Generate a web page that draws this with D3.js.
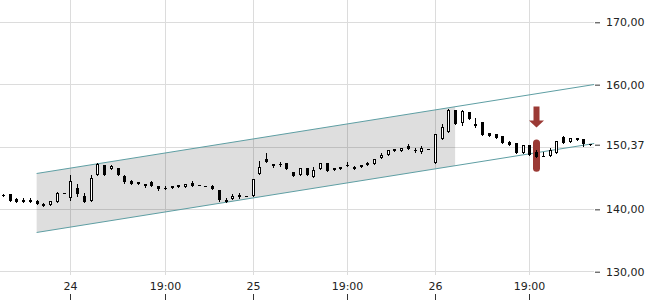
<!DOCTYPE html>
<html><head><meta charset="utf-8">
<script src="https://cdn.jsdelivr.net/npm/d3@7"></script>
<style>
body{margin:0;background:#fff}
svg{display:block}
text{font-family:"DejaVu Sans",sans-serif;font-size:11px;fill:#222}
</style>
</head><body><svg id="c" width="650" height="300"></svg>
<script>
const opens=[142.18,142.35,141.58,141.47,141.47,141.31,140.78,140.62,141.15,142.53,
141.68,143.34,141.99,141.2,145.48,146.97,146.44,146.55,145.32,144.51,
144.3,143.98,144.35,143.6,143.27,143.34,143.44,143.5,144.19,143.84,
143.73,143.63,143.07,141.47,141.58,142.27,142.12,141.99,145.59,148.04,
147.24,147.2,147.35,145.91,145.36,146.55,145.11,146.44,147.29,146.23,
146.39,147.04,146.71,146.97,147.29,147.13,148.15,148.57,149.21,149.32,
150.12,149.45,149.16,149.58,147.35,151.25,152.37,155.78,153.76,155.57,
153.65,153.86,152.16,152.0,151.67,150.65,150.55,149.0,150.28,149.1,
148.42,148.52,148.95,151.45,150.65,151.35,151.2,150.4];
const highs=[142.35,142.45,141.74,141.74,141.74,141.4,140.94,141.31,142.75,142.6,
145.47,143.98,142.54,145.42,147.35,147.1,147.03,146.6,145.4,144.55,
144.3,143.98,144.4,143.6,143.6,143.71,143.87,144.03,144.4,143.85,
143.74,143.82,143.1,141.79,142.38,142.54,142.13,144.79,147.72,149.0,
147.24,147.5,147.4,145.95,146.55,146.55,146.65,147.35,147.29,146.6,
146.76,147.45,146.92,146.97,147.5,147.93,148.95,149.43,149.6,149.69,
150.44,149.76,150.1,149.62,152.0,153.65,156.06,155.8,155.9,155.6,
154.56,153.9,152.2,152.0,151.7,150.92,150.6,150.28,150.3,149.38,
149.15,149.78,150.81,151.73,151.29,151.4,151.25,150.45];
const lows=[142.05,141.2,141.15,141.15,141.04,140.75,140.46,140.62,141.1,142.5,
141.46,141.99,141.15,141.2,145.48,145.4,146.44,145.48,144.2,143.95,
144.0,143.55,143.6,143.1,143.22,143.34,143.44,143.5,143.71,143.78,
143.68,143.2,141.3,141.1,141.58,141.68,142.07,141.99,145.59,147.45,
146.65,146.81,146.44,145.2,145.36,145.36,145.11,146.44,146.0,146.23,
146.39,146.92,146.39,146.76,146.97,147.13,148.15,148.57,149.21,149.32,
149.64,149.12,149.0,149.56,147.35,151.25,152.37,153.6,153.5,154.45,
153.07,151.78,151.67,151.29,150.6,150.28,148.95,149.0,148.68,148.36,
148.42,148.52,148.95,150.55,150.65,150.97,150.12,150.3];
const closes=[142.12,141.23,141.15,141.15,141.04,140.78,140.46,141.31,142.48,142.57,
144.51,142.32,141.15,144.95,147.13,145.48,146.81,145.48,144.24,143.98,
144.03,143.71,143.66,143.18,143.24,143.71,143.87,144.03,143.71,143.8,
143.69,143.23,141.36,141.1,141.99,141.9,142.08,144.79,146.65,147.45,
146.92,147.17,146.44,145.2,146.55,145.36,146.28,147.35,146.0,146.6,
146.76,147.0,146.39,146.76,146.97,147.93,148.63,149.43,149.6,149.69,
149.64,149.41,149.69,149.6,152.0,153.12,155.85,153.6,155.73,154.45,
153.22,151.78,151.67,151.29,150.6,150.28,148.95,150.28,148.68,148.36,
148.5,149.37,150.81,150.55,151.29,150.97,150.44,150.37];

const xTickIndex=[10,24,37,51,64,78];
const xTickLabels=["24","19:00","25","19:00","26","19:00"];
const yGridValues=[130,140,150,160,170];
const yTickValues=[130,140,160,170];
const lastPrice=150.37;
const channelIndex=[5,87.6];
const channelUpper=[145.75,160.02];
const channelLower=[136.29,150.56];
const shadeEndIndex=67;
const markerIndex=79;
const markerRange=[146.05,151.2];

const svg=d3.select("#c");
const n=opens.length;
const x=d3.scaleLinear().domain([-0.5,n-0.5]).range([-0.5,593.5]);
const xr=d3.scaleLinear().domain([-0.5,n-0.5]).rangeRound([-0.5,593.5]);
const y=d3.scaleLinear().domain([130,170]).range([271.7,22.3]);
const yp=v=>Math.floor(y(v));

const locale=d3.formatLocale({decimal:",",thousands:".",grouping:[3],currency:["","€"]});
const fmt=locale.format(".2f");

// grid
const grid=svg.append("g").attr("stroke","#dcdcdc").attr("stroke-width",1).attr("shape-rendering","crispEdges");
grid.selectAll("line.h").data(yGridValues).join("line").attr("class","h")
  .attr("x1",0).attr("x2",594).attr("y1",d=>yp(d)+0.5).attr("y2",d=>yp(d)+0.5);
grid.selectAll("line.v").data(xTickIndex).join("line").attr("class","v")
  .attr("x1",d=>xr(d)+0.5).attr("x2",d=>xr(d)+0.5).attr("y1",0).attr("y2",275);

// channel
const up=d3.scaleLinear().domain(channelIndex).range(channelUpper);
const lo=d3.scaleLinear().domain(channelIndex).range(channelLower);
const s0=channelIndex[0];
svg.append("path")
  .attr("d",d3.line()([[x(s0),y(up(s0))],[x(shadeEndIndex),y(up(shadeEndIndex))],[x(shadeEndIndex),y(lo(shadeEndIndex))],[x(s0),y(lo(s0))]])+"Z")
  .attr("fill","rgba(0,0,0,0.13)");
const cl=d3.line().x(d=>x(d)).y(d=>d);
[up,lo].forEach(f=>{
  svg.append("line").attr("x1",x(channelIndex[0])).attr("x2",x(channelIndex[1]))
    .attr("y1",y(f(channelIndex[0]))).attr("y2",y(f(channelIndex[1])))
    .attr("stroke","#5e9ea3").attr("stroke-width",1);
});

// marker capsule
const mcx=xr(markerIndex)+0.5;
const mTop=y(markerRange[1]), mBot=y(markerRange[0]);
svg.append("rect").attr("x",mcx-3.5).attr("width",7).attr("y",mTop).attr("height",mBot-mTop)
  .attr("rx",3.5).attr("fill","#9b3a35");

// candles
const cg=svg.append("g").attr("shape-rendering","crispEdges");
opens.forEach((o,i)=>{
  const c=closes[i],h=highs[i],l=lows[i];
  const cx=xr(i);
  const yh=yp(h), yl=yp(l);
  cg.append("rect").attr("x",cx).attr("width",1).attr("y",yh).attr("height",Math.max(1,yl-yh+1)).attr("fill","#000");
  let top=yp(Math.max(o,c)), bot=yp(Math.min(o,c));
  if(bot-top<1) bot=top+1;
  if(c>o && bot-top>=2){
    cg.append("rect").attr("x",cx-0.5).attr("width",2).attr("y",top+0.5).attr("height",bot-top-1)
      .attr("fill","#fff").attr("stroke","#000").attr("stroke-width",1);
  } else {
    cg.append("rect").attr("x",cx-1).attr("width",3).attr("y",top).attr("height",bot-top).attr("fill","#000");
  }
});

// arrow
const tip=mTop-12;
svg.append("path")
  .attr("d",`M${mcx-3},${tip-21}H${mcx+3}V${tip-7}H${mcx+7.5}L${mcx},${tip}L${mcx-7.5},${tip-7}H${mcx-3}Z`)
  .attr("fill","#9b3a35");

// y axis
const yAxis=svg.append("g").attr("transform","translate(595,0)")
  .call(d3.axisRight(y).tickValues(yTickValues.concat([lastPrice])).tickSize(5).tickPadding(6).tickFormat(fmt));
yAxis.select(".domain").remove();
yAxis.selectAll(".tick line").attr("stroke","#333");
yAxis.selectAll("text").attr("fill","#222").style("font-size","11px").style("font-family","DejaVu Sans");

// x axis
const xAxis=svg.append("g").attr("transform","translate(0,294)")
  .call(d3.axisBottom(xr).tickValues(xTickIndex).tickSize(6).tickPadding(-17.8).tickFormat((d,i)=>xTickLabels[i]));
xAxis.select(".domain").remove();
xAxis.selectAll(".tick line").attr("stroke","#333");
xAxis.selectAll("text").attr("fill","#222").style("font-size","11px").style("font-family","DejaVu Sans");
</script>
</body></html>
